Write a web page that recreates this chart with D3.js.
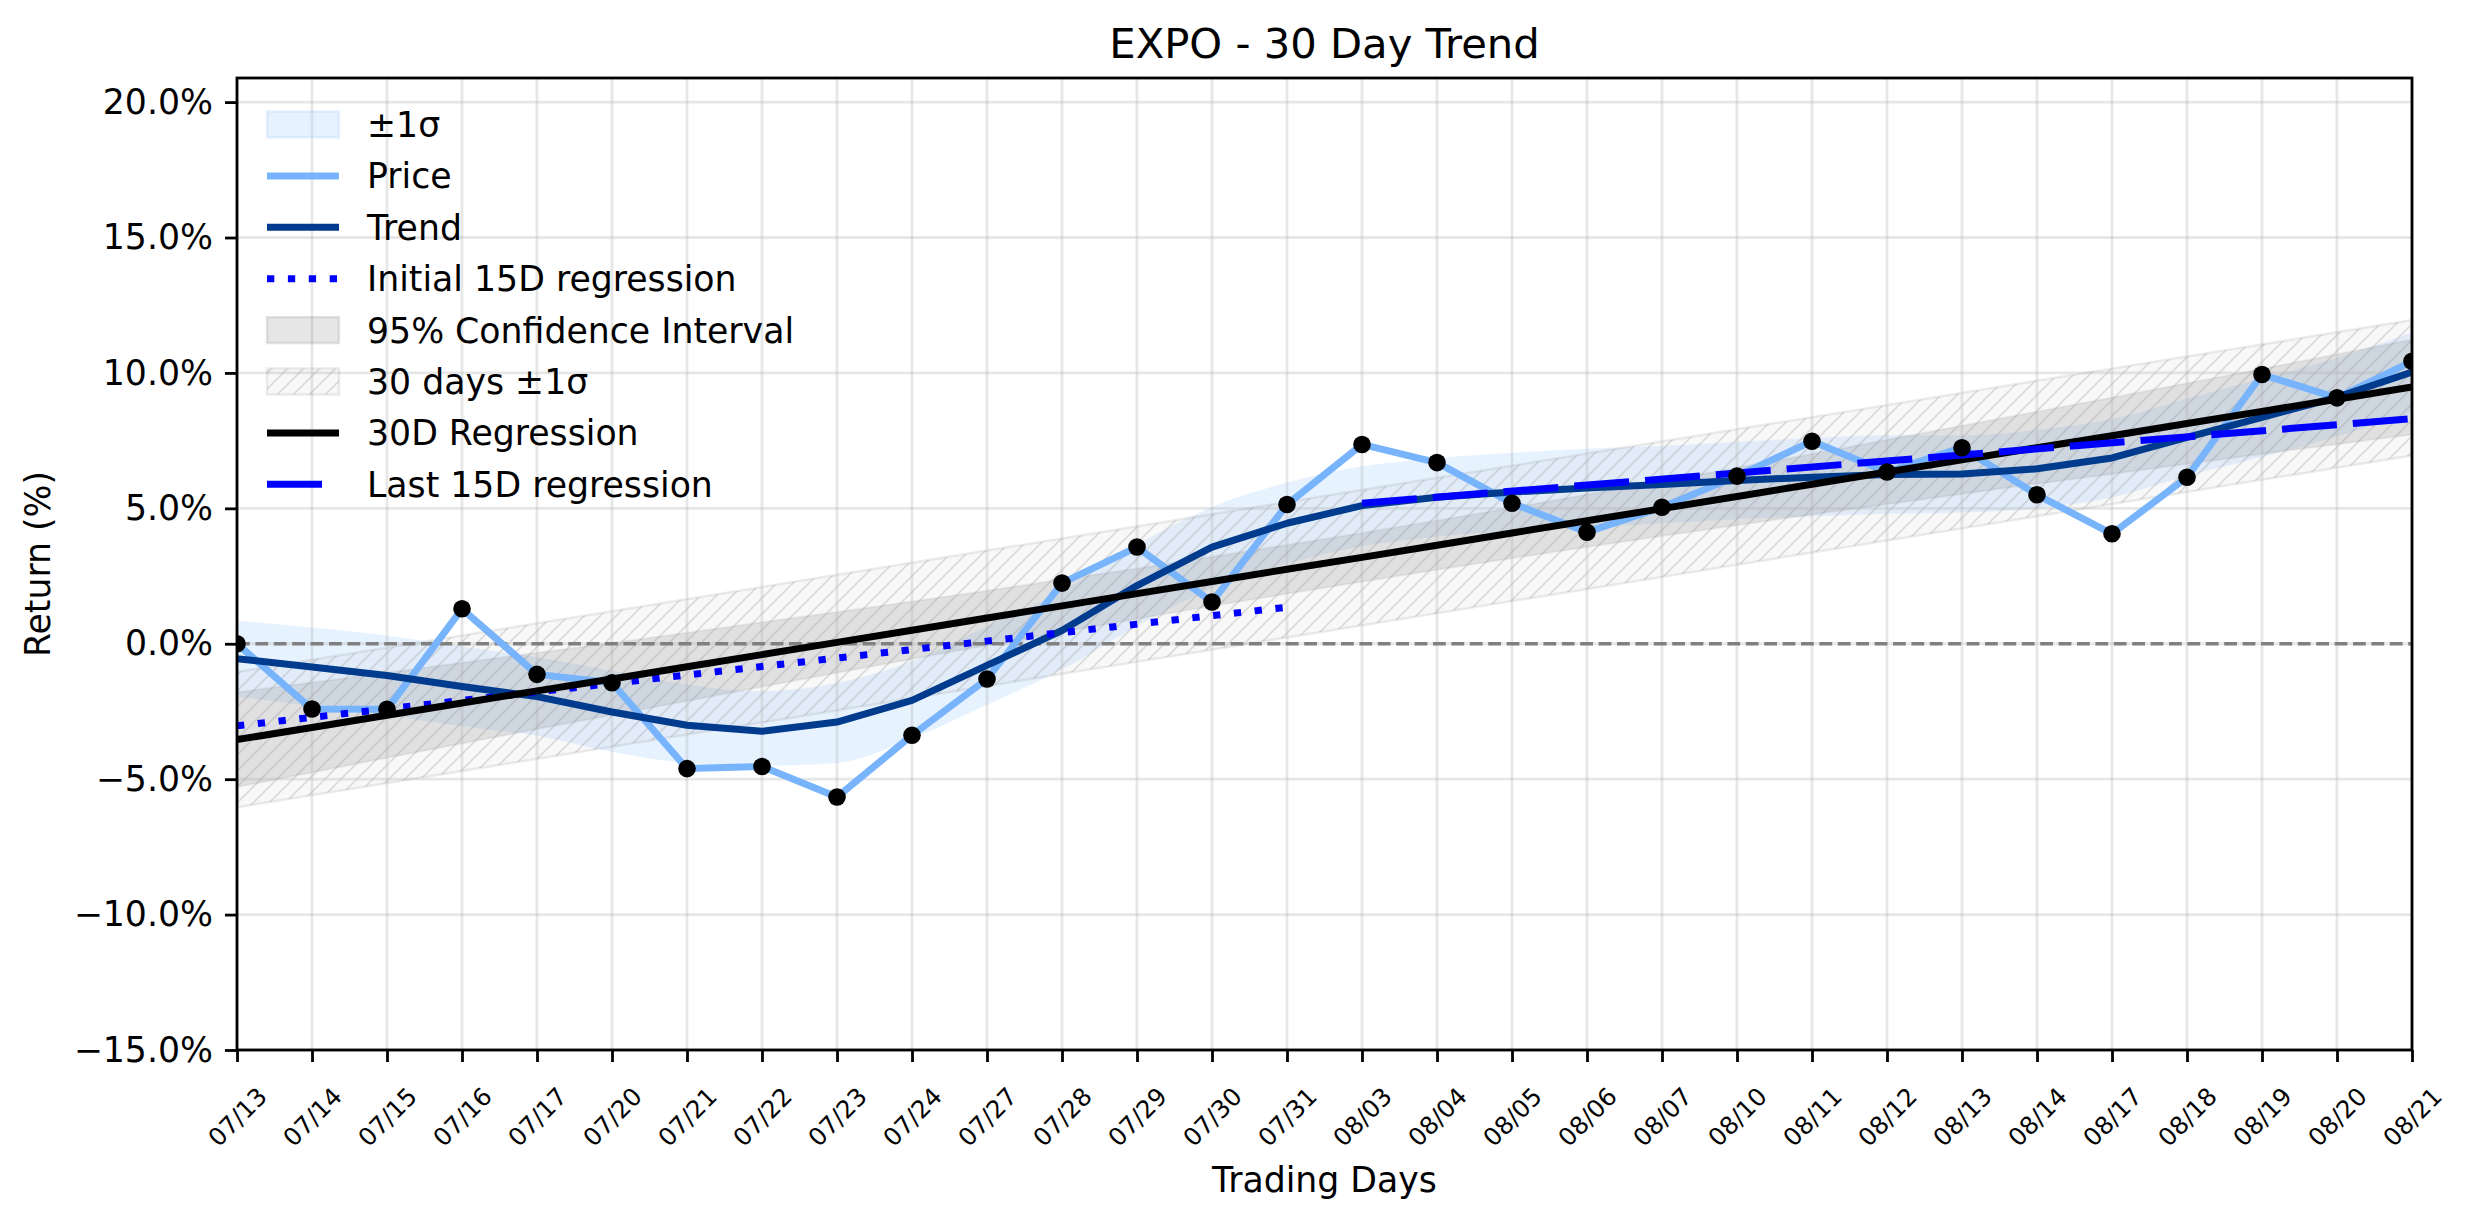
<!DOCTYPE html>
<html>
<head>
<meta charset="utf-8">
<script src="https://cdn.jsdelivr.net/npm/d3@7"></script>
<style>
body { margin: 0; background: #fff; }
text { font-family: "DejaVu Sans", sans-serif; }
</style>
</head>
<body>
<script>
// trading days on the x axis
const dates = ['07/13', '07/14', '07/15', '07/16', '07/17', '07/20', '07/21', '07/22', '07/23', '07/24',
               '07/27', '07/28', '07/29', '07/30', '07/31', '08/03', '08/04', '08/05', '08/06', '08/07',
               '08/10', '08/11', '08/12', '08/13', '08/14', '08/17', '08/18', '08/19', '08/20', '08/21']

// cumulative return in %
const price = [0.00, -2.41, -2.42, 1.29, -1.13, -1.44, -4.61, -4.53, -5.66, -3.38,
               -1.30, 2.24, 3.57, 1.54, 5.14, 7.36, 6.69, 5.19, 4.12, 5.04,
               6.19, 7.48, 6.34, 7.24, 5.50, 4.06, 6.15, 9.94, 9.08, 10.43]

// smoothed trend and its +-1 sigma band
const trend = [-0.55, -0.86, -1.17, -1.58, -1.95, -2.52, -3.01, -3.23, -2.89, -2.09,
               -0.80, 0.49, 2.15, 3.57, 4.45, 5.10, 5.41, 5.60, 5.75, 5.88,
               6.03, 6.15, 6.25, 6.27, 6.46, 6.86, 7.62, 8.36, 9.10, 10.03]
const bandUpper = [0.85, 0.60, 0.30, -0.10, -0.50, -1.00, -1.50, -1.75, -1.45, -0.65,
                   0.65, 1.95, 3.65, 5.05, 5.95, 6.55, 6.85, 7.05, 7.20, 7.30,
                   7.45, 7.60, 7.70, 7.70, 7.90, 8.30, 9.05, 9.80, 10.55, 11.50]
const bandLower = [-1.95, -2.30, -2.65, -3.05, -3.40, -4.00, -4.40, -4.50, -4.40, -3.50,
                   -2.25, -0.95, 0.65, 2.05, 2.95, 3.60, 3.95, 4.15, 4.30, 4.45,
                   4.60, 4.70, 4.80, 4.85, 5.00, 5.40, 6.20, 6.90, 7.65, 8.55]

// 30 day regression line and its 95% confidence half width
const reg30 = [-3.54, -3.09, -2.64, -2.19, -1.74, -1.30, -0.85, -0.40, 0.05, 0.50,
               0.95, 1.40, 1.85, 2.30, 2.75, 3.19, 3.64, 4.09, 4.54, 4.99,
               5.44, 5.89, 6.34, 6.79, 7.24, 7.68, 8.13, 8.58, 9.03, 9.48]
const ciHalf = [1.75, 1.66, 1.57, 1.49, 1.41, 1.33, 1.26, 1.19, 1.12, 1.06,
                1.01, 0.97, 0.93, 0.91, 0.90, 0.90, 0.91, 0.93, 0.97, 1.01,
                1.06, 1.12, 1.19, 1.26, 1.33, 1.41, 1.49, 1.57, 1.66, 1.75]

// 30 days +-1 sigma channel (straight edges, end points)
const sigDates = ['07/13', '08/21']
const sigUpper = [-1.04, 11.95]
const sigLower = [-6.04, 6.95]

// 15 day regressions (end points)
const initDates = ['07/13', '07/31']
const initReg = [-3.03, 1.35]
const lastDates = ['08/03', '08/21']
const lastReg = [5.19, 8.31]

const yTicks = [-15, -10, -5, 0, 5, 10, 15, 20]

const legendLabels = ['±1σ', 'Price', 'Trend', 'Initial 15D regression', '95% Confidence Interval',
                      '30 days ±1σ', '30D Regression', 'Last 15D regression']


const W = 2474, H = 1224
const L = 237, R = 2412, T = 78, B = 1050

const x = d3.scalePoint().domain(dates).range([L, R])
const y = d3.scaleLinear().domain([-15, 20.89]).range([B, T])

const svg = d3.select('body').append('svg').attr('width', W).attr('height', H)

const defs = svg.append('defs')
defs.append('clipPath').attr('id', 'plot')
    .append('rect').attr('x', L).attr('y', T).attr('width', R - L).attr('height', B - T)

// translucent hatch, so the lines below stay visible like matplotlib's hatch='///'
const hatch = defs.append('pattern').attr('id', 'hatch')
    .attr('patternUnits', 'userSpaceOnUse').attr('width', 16).attr('height', 16)
hatch.append('rect').attr('width', 16).attr('height', 16).attr('fill', '#808080').attr('fill-opacity', 0.06)
hatch.append('path').attr('d', 'M-4,4 l8,-8 M0,16 l16,-16 M12,20 l8,-8')
    .attr('stroke', '#808080').attr('stroke-opacity', 0.25).attr('stroke-width', 1.6)

const idx = d3.range(dates.length)
const line = (xs, ys) => d3.line().x(i => x(xs[i])).y(i => y(ys[i]))(d3.range(xs.length))

// filled bands sit below the grid and the lines (matplotlib zorder)
const bands = svg.append('g').attr('clip-path', 'url(#plot)')

bands.append('path')
    .attr('d', d3.area().curve(d3.curveMonotoneX)
      .x(i => x(dates[i])).y0(i => y(bandLower[i])).y1(i => y(bandUpper[i]))(idx))
    .attr('fill', '#9ecbff').attr('fill-opacity', 0.25)

bands.append('path')
    .attr('d', d3.area()
      .x(i => x(dates[i])).y0(i => y(reg30[i] - ciHalf[i])).y1(i => y(reg30[i] + ciHalf[i]))(idx))
    .attr('fill', '#808080').attr('fill-opacity', 0.2)
    .attr('stroke', '#808080').attr('stroke-opacity', 0.12).attr('stroke-width', 2)

bands.append('path')
    .attr('d', d3.area()
      .x(i => x(sigDates[i])).y0(i => y(sigLower[i])).y1(i => y(sigUpper[i]))([0, 1]))
    .attr('fill', 'url(#hatch)')
    .attr('stroke', '#808080').attr('stroke-opacity', 0.15).attr('stroke-width', 2.5)

// grid
const grid = svg.append('g')
grid.selectAll('.vg').data(dates).enter().append('line')
    .attr('x1', d => x(d)).attr('x2', d => x(d)).attr('y1', T).attr('y2', B)
    .attr('stroke', '#b0b0b0').attr('stroke-opacity', 0.3).attr('stroke-width', 2.8)
grid.selectAll('.hg').data(yTicks).enter().append('line')
    .attr('x1', L).attr('x2', R).attr('y1', d => y(d)).attr('y2', d => y(d))
    .attr('stroke', '#b0b0b0').attr('stroke-opacity', 0.3).attr('stroke-width', 2.8)

const plot = svg.append('g').attr('clip-path', 'url(#plot)')

// zero line
plot.append('line').attr('x1', L).attr('x2', R).attr('y1', y(0)).attr('y2', y(0))
    .attr('stroke', '#808080').attr('stroke-width', 3.4).attr('stroke-dasharray', '12.8,5.6')

// price
plot.append('path').attr('d', line(dates, price))
    .attr('fill', 'none').attr('stroke', '#78b4fb').attr('stroke-width', 7)
    .attr('stroke-linejoin', 'round')

// trend
plot.append('path').attr('d', line(dates, trend))
    .attr('fill', 'none').attr('stroke', '#003b8e').attr('stroke-width', 7)
    .attr('stroke-linejoin', 'round')

// initial 15D regression
plot.append('path').attr('d', line(initDates, initReg))
    .attr('fill', 'none').attr('stroke', '#0000ff').attr('stroke-width', 7)
    .attr('stroke-dasharray', '7.3,13.6')

// 30D regression
plot.append('path').attr('d', line(dates, reg30))
    .attr('fill', 'none').attr('stroke', '#000').attr('stroke-width', 7)

// last 15D regression
plot.append('path').attr('d', line(lastDates, lastReg))
    .attr('fill', 'none').attr('stroke', '#0000ff').attr('stroke-width', 7)
    .attr('stroke-dasharray', '55,16')

// price markers
plot.selectAll('.dot').data(idx).enter().append('circle')
    .attr('cx', i => x(dates[i])).attr('cy', i => y(price[i])).attr('r', 8.8)
    .attr('fill', '#000')

// axes
const xAxis = svg.append('g').attr('transform', `translate(0,${B})`)
    .call(d3.axisBottom(x).tickSize(12).tickSizeOuter(0))
xAxis.select('.domain').remove()
xAxis.selectAll('line').attr('stroke-width', 2.8)
xAxis.selectAll('text')
    .attr('y', 0).attr('dy', '0.35em').attr('text-anchor', 'middle')
    .attr('transform', 'translate(0,67) rotate(-45)')
    .attr('font-size', '24.5px').attr('font-family', 'DejaVu Sans').attr('fill', '#000')

const fmt = d3.format('.1f')
const yAxis = svg.append('g').attr('transform', `translate(${L},0)`)
    .call(d3.axisLeft(y).tickValues(yTicks).tickSize(12).tickPadding(12).tickFormat(d => fmt(d) + '%'))
yAxis.select('.domain').remove()
yAxis.selectAll('line').attr('stroke-width', 2.8)
yAxis.selectAll('text').attr('font-size', '34.7px').attr('font-family', 'DejaVu Sans').attr('fill', '#000')

// frame
svg.append('rect').attr('x', L).attr('y', T).attr('width', R - L).attr('height', B - T)
    .attr('fill', 'none').attr('stroke', '#000').attr('stroke-width', 2.8)

// titles
svg.append('text').attr('x', (L + R) / 2).attr('y', 58).attr('text-anchor', 'middle')
    .attr('font-size', '41.7px').text('EXPO - 30 Day Trend')
svg.append('text').attr('x', (L + R) / 2).attr('y', 1192).attr('text-anchor', 'middle')
    .attr('font-size', '34.7px').text('Trading Days')
svg.append('text').attr('transform', `translate(50,${(T + B) / 2}) rotate(-90)`)
    .attr('text-anchor', 'middle').attr('font-size', '34.7px').text('Return (%)')

// legend
const lg = svg.append('g')
const rowY = i => 124.5 + i * 51.4
const hx0 = 267, hx1 = 339

const patch = (i, fill, op, stroke, sop) =>
  lg.append('rect').attr('x', hx0).attr('y', rowY(i) - 13).attr('width', hx1 - hx0).attr('height', 26)
    .attr('fill', fill).attr('fill-opacity', op)
    .attr('stroke', stroke).attr('stroke-opacity', sop).attr('stroke-width', 2.5)
const hline = (i, color, dash) =>
  lg.append('line').attr('x1', hx0).attr('x2', hx1).attr('y1', rowY(i)).attr('y2', rowY(i))
    .attr('stroke', color).attr('stroke-width', 7).attr('stroke-dasharray', dash)

patch(0, '#9ecbff', 0.25, '#9ecbff', 0.25)
hline(1, '#78b4fb', null)
hline(2, '#003b8e', null)
hline(3, '#0000ff', '7.3,13.6')
patch(4, '#808080', 0.2, '#808080', 0.2)
patch(5, 'url(#hatch)', 1, '#808080', 0.15)
hline(6, '#000', null)
hline(7, '#0000ff', '55,20')

lg.selectAll('.lt').data(legendLabels).enter().append('text')
    .attr('x', 367).attr('y', (d, i) => rowY(i)).attr('dy', '0.36em')
    .attr('font-size', '34.7px').text(d => d)
</script>
</body>
</html>
